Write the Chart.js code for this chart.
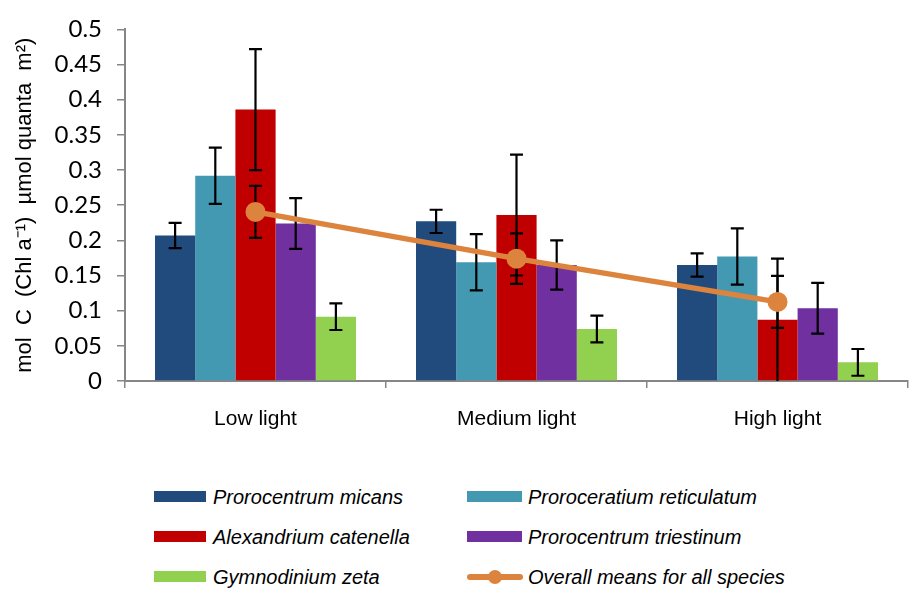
<!DOCTYPE html>
<html><head><meta charset="utf-8">
<script src="https://cdn.jsdelivr.net/npm/chart.js@4.4.1/dist/chart.umd.min.js"></script>
<style>
html,body{margin:0;padding:0;background:#fff;width:911px;height:590px;overflow:hidden;position:relative;}
#wrap{position:absolute;left:0;top:0;width:918px;height:470px;}
.lg{position:absolute;font:italic 20px 'Liberation Sans',Arial,sans-serif;color:#000;white-space:nowrap;line-height:22px;}
.sw{position:absolute;}
</style></head><body>
<div id="wrap"><canvas id="c" width="918" height="470"></canvas></div>
<div id="legend"></div>
<script>
const categories = ['Low light', 'Medium light', 'High light'];
const seriesNames = ['Prorocentrum micans', 'Proroceratium reticulatum', 'Alexandrium catenella', 'Prorocentrum triestinum', 'Gymnodinium zeta', 'Overall means for all species'];
const seriesColors = ['#214A7D', '#4399B2', '#C00000', '#7030A0', '#92D050', '#DC843E'];

const pmValues = [0.207, 0.227, 0.165];
const prValues = [0.292, 0.169, 0.177];
const acValues = [0.386, 0.236, 0.087];
const ptValues = [0.224, 0.165, 0.1035];
const gzValues = [0.0915, 0.074, 0.0265];
const meanValues = [0.2405, 0.174, 0.1125];

const pmErrors = [0.018, 0.0165, 0.0165];
const prErrors = [0.040, 0.040, 0.040];
const acErrors = [0.086, 0.086, 0.087];
const ptErrors = [0.036, 0.035, 0.036];
const gzErrors = [0.019, 0.019, 0.019];
const meanErrors = [0.037, 0.036, 0.037];

const yTickLabels = ['0', '0.05', '0.1', '0.15', '0.2', '0.25', '0.3', '0.35', '0.4', '0.45', '0.5'];
const yTitle = 'mol  C  (Chl a\u207B\u00B9)  \u00B5mol quanta  m\u00B2)';

const allValues = [pmValues, prValues, acValues, ptValues, gzValues, meanValues];
const allErrors = [pmErrors, prErrors, acErrors, ptErrors, gzErrors, meanErrors];

const errorBarPlugin = {
  id: 'errorBars',
  beforeDatasetDraw(chart, args) {
    if (args.index !== 5) return;
    const ctx = chart.ctx, y = chart.scales.y;
    ctx.save();
    ctx.strokeStyle = '#000';
    ctx.lineWidth = 2.2;
    for (let d = 0; d < allValues.length; d++) {
      const meta = chart.getDatasetMeta(d);
      meta.data.forEach((el, j) => {
        const x = el.x;
        const hiV = allValues[d][j] + allErrors[d][j];
        let loV = allValues[d][j] - allErrors[d][j];
        const capLo = loV > 0;
        if (!capLo) loV = 0;
        const yh = y.getPixelForValue(hiV), yl = y.getPixelForValue(loV);
        ctx.beginPath();
        ctx.moveTo(x, yh); ctx.lineTo(x, yl);
        ctx.moveTo(x - 6.5, yh); ctx.lineTo(x + 6.5, yh);
        if (capLo) { ctx.moveTo(x - 6.5, yl); ctx.lineTo(x + 6.5, yl); }
        ctx.stroke();
      });
    }
    ctx.restore();
  }
};

const barDatasets = [0, 1, 2, 3, 4].map(i => ({
  type: 'bar',
  label: seriesNames[i],
  data: allValues[i],
  backgroundColor: seriesColors[i],
  borderWidth: 0,
  order: 1
}));

new Chart(document.getElementById('c'), {
  type: 'bar',
  data: {
    labels: categories,
    datasets: barDatasets.concat([{
      type: 'line',
      label: seriesNames[5],
      data: meanValues,
      borderColor: seriesColors[5],
      backgroundColor: seriesColors[5],
      borderWidth: 5.5,
      pointRadius: 10,
      pointHoverRadius: 10,
      pointBorderWidth: 0,
      pointBackgroundColor: seriesColors[5],
      tension: 0,
      order: 0
    }])
  },
  options: {
    responsive: false,
    animation: false,
    devicePixelRatio: 1,
    layout: { padding: { left: 9, top: 22, right: 1, bottom: 0 } },
    plugins: { legend: { display: false }, tooltip: { enabled: false } },
    datasets: { bar: { categoryPercentage: 0.77, barPercentage: 1.0 } },
    scales: {
      x: {
        grid: { display: true, drawOnChartArea: false, tickLength: 7, color: '#868686', lineWidth: 1.5, offset: true },
        border: { color: '#868686', width: 2 },
        ticks: { color: '#000', font: { family: 'Liberation Sans', size: 21 }, padding: 19 },
        afterFit(s) { s.height = 89; }
      },
      y: {
        min: 0, max: 0.5,
        ticks: { stepSize: 0.05, color: '#000', font: { family: 'Lato', size: 24 }, padding: 15,
          callback: (v, i) => yTickLabels[i] },
        grid: { drawOnChartArea: false, tickLength: 8, color: '#868686', lineWidth: 1.5 },
        border: { color: '#868686', width: 2 },
        title: { display: true, text: yTitle, color: '#000', font: { family: 'Liberation Sans', size: 22 }, padding: { top: 3, bottom: 4 } },
        afterFit(s) { s.width = 116; }
      }
    }
  },
  plugins: [errorBarPlugin]
});

// HTML legend built from series names/colours
const legendCols = [154, 467];
const legendRows = [497, 537, 577];
const lg = document.getElementById('legend');
seriesNames.forEach((name, i) => {
  const col = i % 2, row = Math.floor(i / 2);
  const cx = legendCols[col], cy = legendRows[row];
  if (i < 5) {
    const s = document.createElement('div');
    s.className = 'sw';
    s.style.cssText = `left:${cx}px;top:${cy - 6}px;width:${col ? 55 : 52}px;height:11px;background:${seriesColors[i]};`;
    lg.appendChild(s);
  } else {
    const l = document.createElement('div');
    l.className = 'sw';
    l.style.cssText = `left:${cx}px;top:${cy - 3}px;width:56px;height:6px;border-radius:3px;background:${seriesColors[i]};`;
    lg.appendChild(l);
    const d = document.createElement('div');
    d.className = 'sw';
    d.style.cssText = `left:${cx + 21}px;top:${cy - 7}px;width:14px;height:14px;border-radius:7px;background:${seriesColors[i]};`;
    lg.appendChild(d);
  }
  const t = document.createElement('div');
  t.className = 'lg';
  t.textContent = name;
  t.style.left = (col ? 528 : 213) + 'px';
  t.style.top = (cy - 11) + 'px';
  lg.appendChild(t);
});
</script>
</body></html>
